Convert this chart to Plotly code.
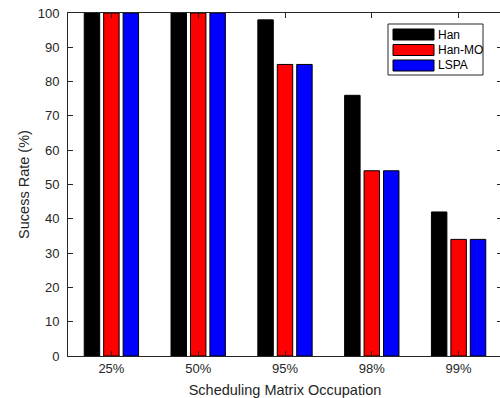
import plotly.graph_objects as go

categories = ["25%", "50%", "95%", "98%", "99%"]
han = [100, 100, 98, 76, 42]
han_mo = [100, 100, 85, 54, 34]
lspa = [100, 100, 85, 54, 34]
series_names = ["Han", "Han-MO", "LSPA"]
series_colors = ["#000000", "#FF0000", "#0000FF"]
y_ticks = [0, 10, 20, 30, 40, 50, 60, 70, 80, 90, 100]

x_pos = list(range(1, len(categories) + 1))
axis_col = "#262626"
FAM = "Liberation Sans, Arial, Helvetica, sans-serif"

# layout frame; the right axis sits just past the 500px window edge
W, H = 502, 398
L, T, R, B = 68, 13, 0, 42
PW, PH = W - L - R, H - T - B


def px(sx):  # pixel x -> paper x
    return (sx - L) / PW


def py(sy):  # pixel y -> paper y
    return (H - B - sy) / PH


fig = go.Figure()
for name, vals, col in zip(series_names, [han, han_mo, lspa], series_colors):
    fig.add_trace(go.Bar(x=x_pos, y=vals, name=name,
                         marker=dict(color=col, line=dict(color="#000000", width=1))))

shapes = [dict(type="rect", xref="paper", yref="paper", x0=px(388), x1=px(483), y0=py(75), y1=py(24),
               line=dict(color=axis_col, width=1), fillcolor="white", layer="above")]
annotations = []
row_centers = [34.5, 50, 65.5]
for name, col, rc in zip(series_names, series_colors, row_centers):
    shapes.append(dict(type="rect", xref="paper", yref="paper", x0=px(393), x1=px(434),
                       y0=py(rc + 5.5), y1=py(rc - 5.5), line=dict(color="#000000", width=1),
                       fillcolor=col, layer="above"))
    annotations.append(dict(xref="paper", yref="paper", x=px(436), y=py(rc), xanchor="left",
                            yanchor="middle", text=name, showarrow=False,
                            font=dict(family=FAM, size=12, color="#000000")))

fig.update_layout(
    width=W, height=H,
    margin=dict(l=L, r=R, t=T, b=B, autoexpand=False),
    paper_bgcolor="white", plot_bgcolor="white",
    barmode="group", bargap=0.328, bargroupgap=0.205,
    font=dict(family=FAM, size=13, color=axis_col),
    showlegend=False,
    shapes=shapes, annotations=annotations,
    xaxis=dict(range=[0.5, 5.5], tickvals=x_pos, ticktext=categories, automargin=False,
               showline=True, linecolor=axis_col, linewidth=1, mirror="ticks",
               ticks="inside", ticklen=5, tickcolor=axis_col, showgrid=False, zeroline=False,
               layer="above traces",
               title=dict(text="Scheduling Matrix Occupation", font=dict(size=14.5, color=axis_col), standoff=10)),
    yaxis=dict(range=[0, 100], tickvals=y_ticks, automargin=False,
               showline=True, linecolor=axis_col, linewidth=1, mirror="ticks",
               ticks="inside", ticklen=5, tickcolor=axis_col, showgrid=False, zeroline=False,
               layer="above traces", ticklabelstandoff=5,
               title=dict(text="Sucess Rate (%)", font=dict(size=14.5, color=axis_col), standoff=4)),
)

fig.write_html("out.html", config={"displayModeBar": False},
               post_script="document.body.style.margin='0';document.body.style.overflow='hidden';")
